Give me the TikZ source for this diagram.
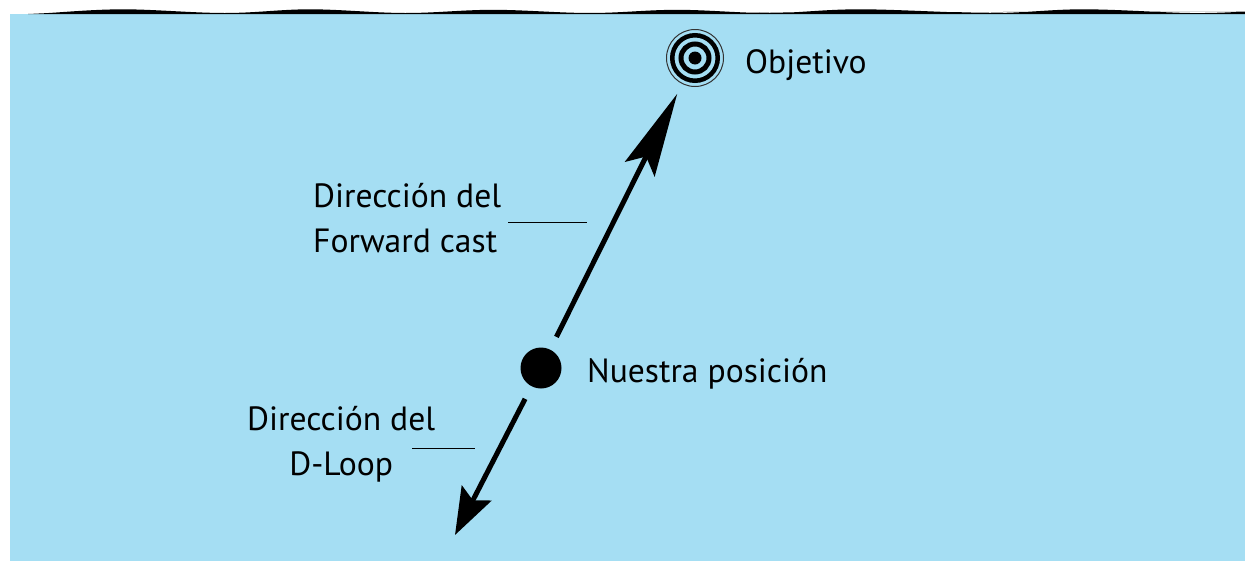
\documentclass[tikz,border=0pt]{standalone}
\usepackage{fontspec}
\setmainfont{PT Sans}
\usetikzlibrary{arrows.meta}
\definecolor{water}{RGB}{165,222,243}
\begin{document}
\begin{tikzpicture}[x=1pt,y=-1pt,
  lbl/.style={font=\fontsize{33.6}{45}\selectfont, inner sep=0pt, text=black},
  shaft/.style={line width=5pt, black},
  leader/.style={line width=1pt, black}]
\useasboundingbox (0,0) rectangle (1245,563);
% water
\fill[water] (10,14) rectangle (1245,561);
% wavy top edge
\fill[black] (28,14) -- (1245,14) -- (1245,11.5)
  plot[smooth, tension=0.6] coordinates {(1245,11.5) (1190,13) (1083,9.3) (990,13) (860,9.3) (770,13) (677,9.8) (590,13) (493,9.8) (405,13) (310,9.3) (225,13) (123,9.3) (45,13.2) (28,14)} -- cycle;
% target
\node[circle, minimum size=57pt, inner sep=0pt, draw=black!80, line width=1pt] (tgt) at (695,58) {};
\draw[line width=4.5pt] (tgt.center) circle[radius=22.75];
\draw[line width=5pt] (tgt.center) circle[radius=14];
\fill (tgt.center) circle[radius=6.5];
% position
\node[circle, fill=black, minimum size=41pt, inner sep=0pt] (pos) at (541,368) {};
\coordinate (dl) at (455,535);
% arrows
\draw[shaft, -{Stealth[length=84pt,width=33pt,inset=14pt]}, shorten <=14pt, shorten >=11pt] (pos) -- (tgt);
\draw[shaft, -{Stealth[length=47pt,width=33pt,inset=8pt]}, shorten <=14pt] (pos) -- (dl);
% labels
\node[lbl, anchor=base west] (obj) at (745,73) {Objetivo};
\node[lbl, anchor=base west] (nue) at (587,382) {Nuestra posición};
\node[lbl, anchor=base west, align=left] (fwd) at (313,252) {Dirección del\\Forward cast};
\node[lbl, anchor=base west, align=center] (dlp) at (247,475) {Dirección del\\D-Loop};
% leaders
\coordinate (f1) at (508,222); \coordinate (f2) at (587,222);
\coordinate (d1) at (412,448); \coordinate (d2) at (475,448);
\draw[leader] (f1) -- (f2);
\draw[leader] (d1) -- (d2);
\end{tikzpicture}
\end{document}
